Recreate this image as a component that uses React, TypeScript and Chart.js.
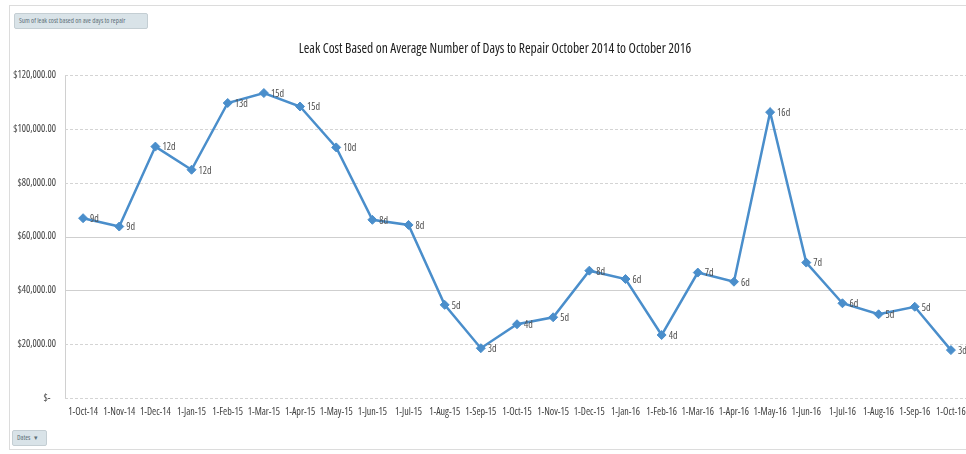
import React, { useEffect, useRef } from "react";
import { Chart, registerables } from "chart.js";

Chart.register(...registerables);

const months: string[] = [
  "1-Oct-14", "1-Nov-14", "1-Dec-14", "1-Jan-15", "1-Feb-15", "1-Mar-15", "1-Apr-15",
  "1-May-15", "1-Jun-15", "1-Jul-15", "1-Aug-15", "1-Sep-15", "1-Oct-15", "1-Nov-15",
  "1-Dec-15", "1-Jan-16", "1-Feb-16", "1-Mar-16", "1-Apr-16", "1-May-16", "1-Jun-16",
  "1-Jul-16", "1-Aug-16", "1-Sep-16", "1-Oct-16",
];

const leakCost: number[] = [
  66800, 63700, 93400, 84800, 109600, 113300, 108300,
  93100, 66200, 64300, 34600, 18500, 27400, 30000,
  47300, 44200, 23400, 46600, 43200, 106200, 50300,
  35200, 31100, 33900, 17800,
];

const daysLabels: string[] = [
  "9d", "9d", "12d", "12d", "13d", "15d", "15d",
  "10d", "8d", "8d", "5d", "3d", "4d", "5d",
  "8d", "6d", "4d", "7d", "6d", "16d", "7d",
  "6d", "5d", "5d", "3d",
];

const yMin = 0;
const yMax = 120000;
const yStep = 20000;
const solidGridValues: number[] = [40000, 60000];

const titleText = "Leak Cost Based on Average Number of Days to Repair October 2014 to October 2016";
const FAMILY = "'Open Sans', Lato, sans-serif";
const STRETCH = "condensed";
const LINE_COLOR = "#4a8ecb";

function formatMoney(v: number): string {
  if (v === 0) return "$-   ";
  return "$" + v.toLocaleString("en-US", { minimumFractionDigits: 2, maximumFractionDigits: 2 });
}

const decorPlugin = {
  id: "decor",
  beforeDatasetsDraw(chart: any) {
    const { ctx, chartArea, scales } = chart;
    const y = scales.y;
    ctx.save();
    ctx.lineWidth = 1;
    y.ticks.forEach((t: any) => {
      const py = Math.round(y.getPixelForValue(t.value)) + 0.5;
      const solid = solidGridValues.includes(t.value);
      ctx.strokeStyle = solid ? "#cfcfcf" : "#d4d4d4";
      ctx.setLineDash(solid ? [] : [3, 2]);
      ctx.beginPath();
      ctx.moveTo(chartArea.left, py);
      ctx.lineTo(chartArea.right, py);
      ctx.stroke();
    });
    ctx.restore();
  },
  afterDatasetsDraw(chart: any) {
    const { ctx } = chart;
    const meta = chart.getDatasetMeta(0);
    ctx.save();
    ctx.font = STRETCH + " 10px " + FAMILY;
    ctx.fillStyle = "#505050";
    ctx.textAlign = "left";
    ctx.textBaseline = "middle";
    meta.data.forEach((pt: any, i: number) => {
      ctx.fillText(daysLabels[i], pt.x + 7, pt.y + 1);
    });
    ctx.restore();
  },
  afterDraw(chart: any) {
    const { ctx } = chart;
    ctx.save();
    ctx.font = STRETCH + " 13.5px " + FAMILY;
    ctx.fillStyle = "#202020";
    ctx.textAlign = "center";
    ctx.textBaseline = "middle";
    ctx.fillText(titleText, 495, 49);
    ctx.restore();
  },
};

export default function App() {
  const canvasRef = useRef<HTMLCanvasElement | null>(null);

  useEffect(() => {
    if (!canvasRef.current) return;
    const chart = new Chart(canvasRef.current, {
      type: "line",
      data: {
        labels: months,
        datasets: [
          {
            data: leakCost,
            borderColor: LINE_COLOR,
            backgroundColor: LINE_COLOR,
            borderWidth: 2.5,
            pointStyle: "rectRot",
            pointRadius: 4.5,
            pointBorderWidth: 1,
            tension: 0,
            fill: false,
          },
        ],
      },
      options: {
        animation: false,
        responsive: false,
        maintainAspectRatio: false,
        layout: { padding: { top: 75, right: 6, bottom: 0, left: 0 } },
        plugins: {
          legend: { display: false },
          title: { display: false },
          tooltip: { enabled: false },
        },
        scales: {
          x: {
            offset: true,
            grid: { display: false, drawTicks: false },
            border: { display: false },
            ticks: {
              font: { family: FAMILY, size: 10, weight: STRETCH as any },
              color: "#404040",
              padding: 8,
              maxRotation: 0,
              autoSkip: false,
            },
            afterFit(scale: any) {
              scale.height = 56;
              scale.paddingLeft = 0;
              scale.paddingRight = 0;
            },
          },
          y: {
            min: yMin,
            max: yMax,
            grid: { display: false, drawTicks: false },
            border: { display: true, color: "#d0d0d0", width: 1 },
            ticks: {
              stepSize: yStep,
              font: { family: FAMILY, size: 10, weight: STRETCH as any },
              color: "#404040",
              padding: 9,
              callback: (v: any) => formatMoney(Number(v)),
            },
            afterFit(scale: any) {
              scale.width = 65;
              scale.paddingTop = 0;
              scale.paddingBottom = 0;
            },
          },
        },
      },
      plugins: [decorPlugin],
    });
    return () => chart.destroy();
  }, []);

  const btn: React.CSSProperties = {
    position: "absolute",
    background: "#d9e3e8",
    border: "1px solid #c4ced3",
    borderRadius: 2,
    fontFamily: FAMILY,
    fontStretch: STRETCH,
    fontSize: 7,
    lineHeight: "14px",
    color: "#5d7078",
    paddingLeft: 4,
    boxSizing: "border-box",
    whiteSpace: "nowrap",
    overflow: "hidden",
  };

  return (
    <div
      style={{
        position: "absolute",
        left: 0,
        top: 0,
        width: 966,
        height: 454,
        overflow: "hidden",
        background: "#ffffff",
      }}
    >
      <div
        style={{
          position: "absolute",
          left: 9,
          top: 5,
          width: 980,
          height: 443,
          border: "1px solid #dcdcdc",
        }}
      />
      <canvas
        ref={canvasRef}
        width={975}
        height={454}
        style={{ position: "absolute", left: 0, top: 0, width: 975, height: 454 }}
      />
      <div style={{ ...btn, left: 14, top: 13, width: 134, height: 16 }}>
        Sum of leak cost based on ave days to repair
      </div>
      <div style={{ ...btn, left: 12, top: 430, width: 35, height: 16 }}>
        Dates&nbsp;&nbsp;&nbsp;▾
      </div>
    </div>
  );
}
